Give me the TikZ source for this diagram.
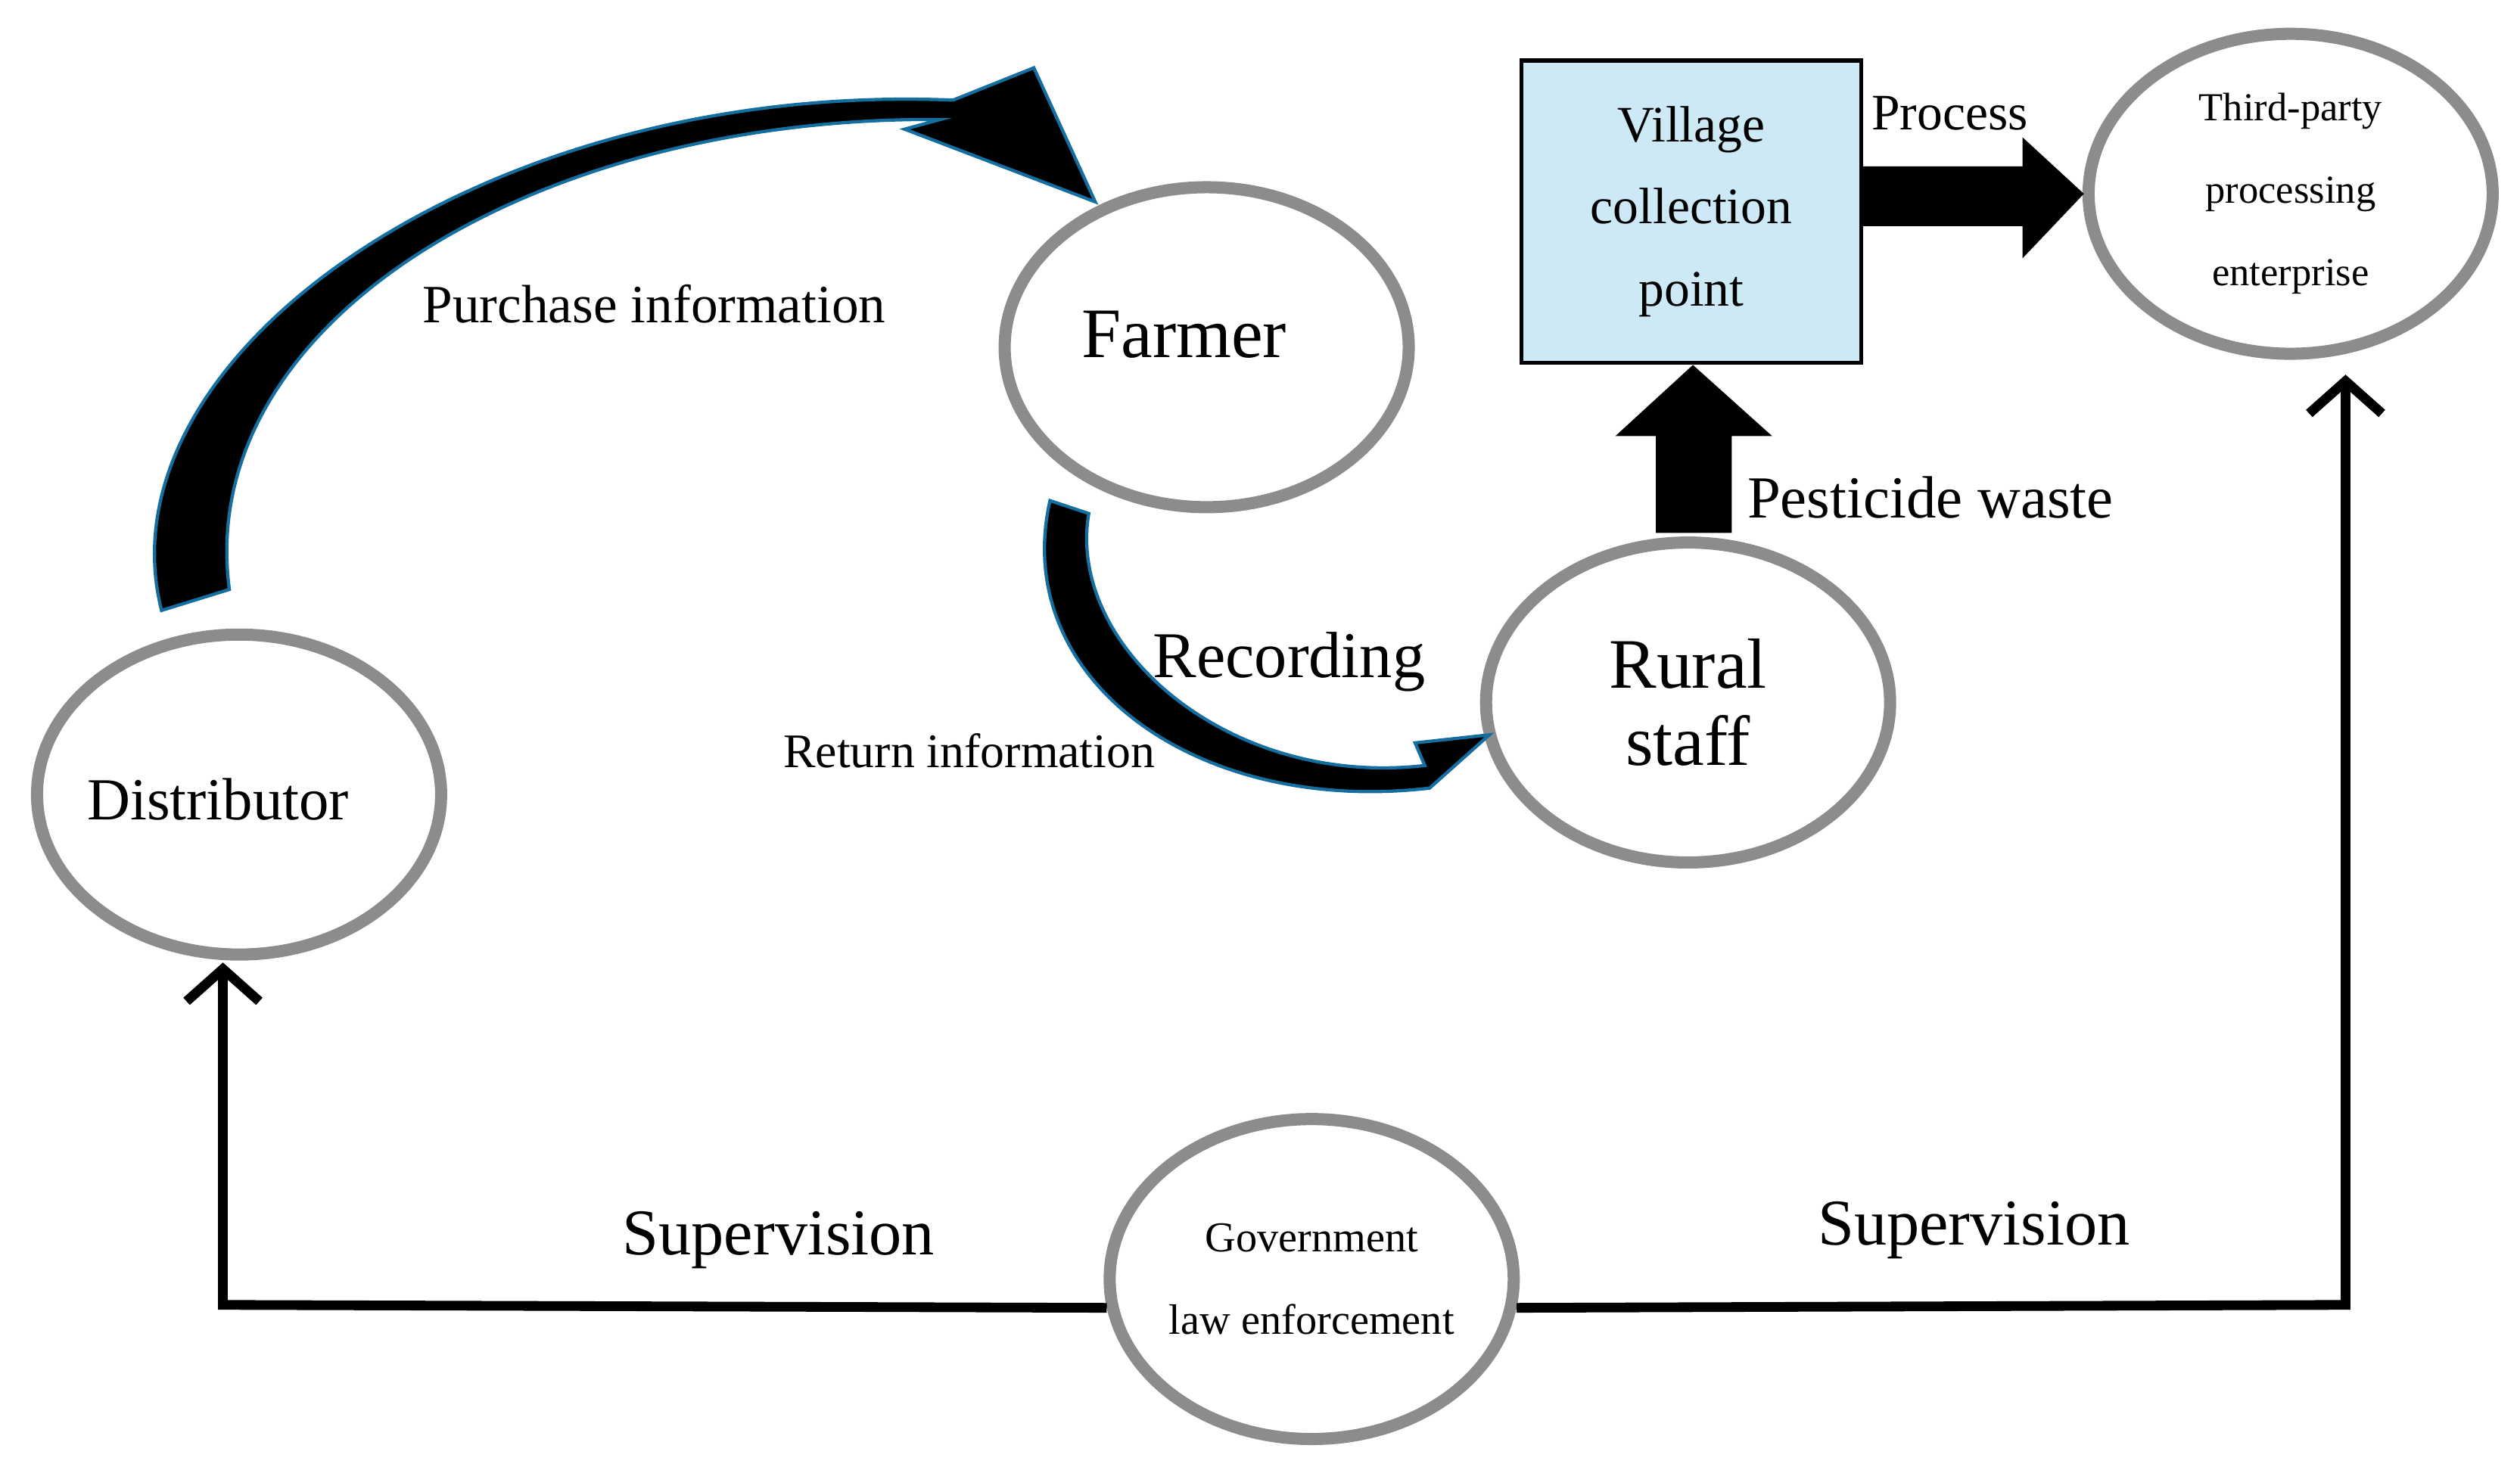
\documentclass[tikz,border=0pt]{standalone}
\usepackage{fontspec}
\setmainfont{Liberation Serif}
\usetikzlibrary{positioning,arrows.meta,shapes.geometric}
\definecolor{ringgray}{RGB}{140,140,140}
\definecolor{boxblue}{RGB}{205,233,246}
\definecolor{edgeblue}{RGB}{20,110,160}
\tikzset{
  actor/.style={ellipse, draw=ringgray, line width=0.075cm, inner sep=0pt, minimum width=2.5cm, minimum height=1.98cm, align=center},
  fat/.style={fill=black, draw=edgeblue, line width=0.02cm},
  sup/.style={draw=black, line width=0.06cm, -{Straight Barb[length=0.2cm,width=0.45cm,line width=0.06cm]}},
  lbl/.style={font=\fontsize{9.5}{12}\selectfont}
}
\begin{document}
\begin{tikzpicture}[x=0.01cm,y=-0.01cm]
\useasboundingbox (0,0) rectangle (1560,910);

% Nodes
\node[actor] (dist) at (148,492) {};
\node[lbl, font=\fontsize{10.5}{13}\selectfont] at (135,495) {Distributor};
\node[actor] (farmer) at (747,215) {};
\node[font=\fontsize{12.5}{15}\selectfont] at (733,207) {Farmer};
\node[actor, font=\fontsize{12.5}{13.5}\selectfont] (rural) at (1045,435) {Rural\\staff};
\node[actor, font=\fontsize{7}{14.5}\selectfont] (third) at (1418,120) {Third-party\\processing\\enterprise};
\node[actor, font=\fontsize{7.5}{14.5}\selectfont] (gov) at (812,792) {Government\\law enforcement};
\node[draw=black, fill=boxblue, line width=0.025cm, inner sep=0pt, minimum width=2.1cm, minimum height=1.87cm,
  align=center, font=\fontsize{9}{14.5}\selectfont] (village) at (1047,131) {Village\\collection\\point};

% Labels
\node[lbl] at (405,188) {Purchase information};
\node[lbl, font=\fontsize{11.5}{14}\selectfont] at (798,410) {Recording};
\node[font=\fontsize{8.5}{11}\selectfont] at (600,465) {Return information};
\node[lbl, font=\fontsize{10.5}{13}\selectfont] at (1195,308) {Pesticide waste};
\node[font=\fontsize{9}{11}\selectfont] at (1207,70) {Process};
\node[font=\fontsize{11.5}{14}\selectfont] at (482,768) {Supervision};
\node[font=\fontsize{11.5}{14}\selectfont] at (1222,762) {Supervision};

% Curved flow arrows
\path[fat] (100,378) .. controls (60,220) and (300,50) .. (590,62) -- (640,42) -- (678,125)
  -- (560,80) -- (582,74) .. controls (330,72) and (120,200) .. (142,365) -- cycle;
\path[fat] (650,310) .. controls (625,420) and (740,505) .. (885,488) -- (922,455)
  -- (876,460) -- (882,474) .. controls (760,488) and (660,400) .. (674,318) -- cycle;

% Block arrows
\path[fill=black] (1025,330) -- (1025,270) -- (1000,270) -- (1048,226) -- (1097,270)
  -- (1072,270) -- (1072,330) -- cycle;
\path[fill=black] (1152,103) -- (1252,103) -- (1252,85) -- (1290,120) -- (1252,160)
  -- (1252,140) -- (1152,140) -- cycle;

% Supervision
\draw[sup] (gov.188) -- (138,808) -- (138,596);
\draw[sup] (gov.-8) -- (1452,808) -- (1452,232);
\end{tikzpicture}
\end{document}
